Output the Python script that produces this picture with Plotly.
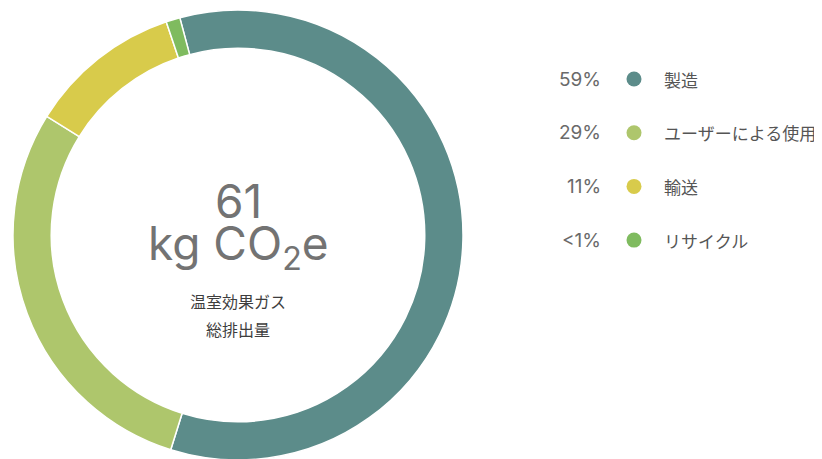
import plotly.graph_objects as go

categories = ["製造", "ユーザーによる使用", "輸送", "リサイクル"]
values = [59, 29, 11, 1]
pct_labels = ["59%", "29%", "11%", "<1%"]
colors = ["#5c8c8a", "#aec66c", "#d8cb4b", "#7fbb5f"]
total_value = "61"
total_unit = "kg CO<sub>2</sub>e"
subtitle = ["温室効果ガス", "総排出量"]

FONT = "Inter, 'Noto Sans CJK JP', sans-serif"
JFONT = "'Noto Sans CJK JP', sans-serif"

W, H = 822, 459
OFF = 8  # default page body margin

# donut placement (page pixels)
cx, cy, R = 238, 235, 225
fx0, fx1 = cx - R - OFF, cx + R - OFF
fy0, fy1 = cy - R - OFF, cy + R - OFF

fig = go.Figure()
fig.add_trace(go.Pie(
    labels=categories, values=values, hole=0.83, sort=False,
    direction="clockwise", rotation=-15,
    marker=dict(colors=colors, line=dict(color="white", width=1.5)),
    textinfo="none", hoverinfo="label+percent", showlegend=False,
    domain=dict(x=[fx0 / W, fx1 / W], y=[(H - fy1) / H, (H - fy0) / H]),
))

row_y = [79 + 53.7 * i for i in range(len(categories))]
fig.add_trace(go.Scatter(
    x=[634] * len(categories), y=row_y, mode="markers",
    marker=dict(size=15, color=colors), showlegend=False, hoverinfo="skip",
    xaxis="x", yaxis="y",
))

annotations = []
for yy, p, c in zip(row_y, pct_labels, categories):
    annotations.append(dict(x=603, y=yy, xref="x", yref="y", text=p, showarrow=False,
                            xanchor="right", yanchor="middle",
                            font=dict(family=FONT, size=19, color="#6a6a6a")))
    annotations.append(dict(x=662, y=yy, xref="x", yref="y", text=c, showarrow=False,
                            xanchor="left", yanchor="middle",
                            font=dict(family=JFONT, size=17, color="#555555")))

annotations.append(dict(x=cx, y=201, xref="x", yref="y", text=total_value,
                        showarrow=False, xanchor="center", yanchor="middle",
                        font=dict(family=FONT, size=46, color="#737373")))
annotations.append(dict(x=cx, y=246, xref="x", yref="y", text=total_unit,
                        showarrow=False, xanchor="center", yanchor="middle",
                        font=dict(family=FONT, size=46, color="#737373")))
annotations.append(dict(x=cx, y=301, xref="x", yref="y", text=subtitle[0],
                        showarrow=False, xanchor="center", yanchor="middle",
                        font=dict(family=JFONT, size=16, color="#3e3e3e")))
annotations.append(dict(x=cx, y=329, xref="x", yref="y", text=subtitle[1],
                        showarrow=False, xanchor="center", yanchor="middle",
                        font=dict(family=JFONT, size=16, color="#3e3e3e")))

fig.update_layout(
    width=W, height=H,
    margin=dict(l=0, r=0, t=0, b=0),
    paper_bgcolor="white", plot_bgcolor="rgba(0,0,0,0)",
    xaxis=dict(domain=[0, 1], range=[OFF, W + OFF], visible=False, fixedrange=True),
    yaxis=dict(domain=[0, 1], range=[H + OFF, OFF], visible=False, fixedrange=True),
    annotations=annotations,
)

fig.write_html("out.html")
